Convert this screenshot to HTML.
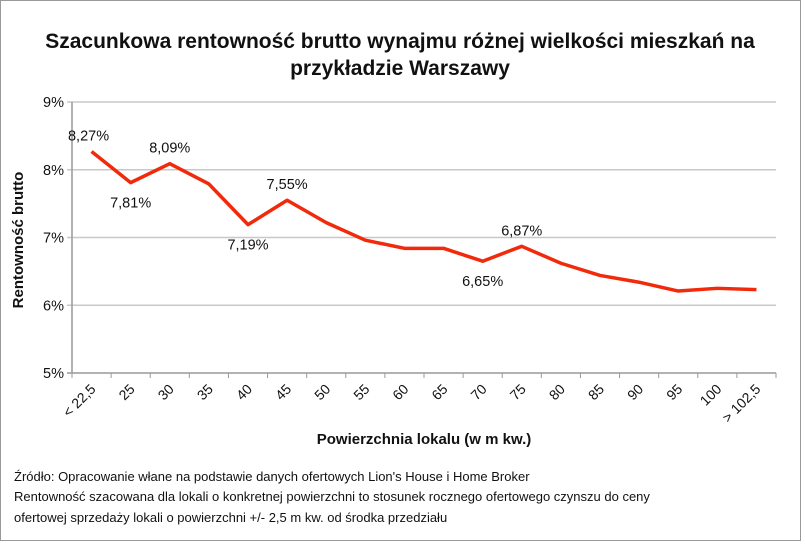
<!DOCTYPE html>
<html><head><meta charset="utf-8"><style>
body{margin:0;background:#fff;font-family:"Liberation Sans",sans-serif}
#wrap{position:relative;width:805px;height:544px;overflow:hidden}
</style></head><body>
<div id="wrap">
<svg id="chart" width="805" height="544">
<rect x="0.5" y="0.5" width="800" height="540" fill="#fff" stroke="#999"/>
<text x="400" y="48" text-anchor="middle" font-size="21" font-weight="bold" fill="#111">Szacunkowa rentowność brutto wynajmu różnej wielkości mieszkań na</text>
<text x="400" y="75" text-anchor="middle" font-size="21" font-weight="bold" fill="#111">przykładzie Warszawy</text>
<g id="grid"></g><g id="axes"></g><g id="series"></g>
<text transform="translate(23,240) rotate(-90)" text-anchor="middle" font-size="15" font-weight="bold" fill="#111">Rentowność brutto</text>
<text x="424" y="444" text-anchor="middle" font-size="15" font-weight="bold" fill="#111">Powierzchnia lokalu (w m kw.)</text>
<text x="14" y="481" font-size="13" fill="#111">Źródło: Opracowanie włane na podstawie  danych ofertowych Lion's House i Home Broker</text>
<text x="14" y="501" font-size="13" fill="#111">Rentowność szacowana dla lokali o konkretnej powierzchni to stosunek rocznego ofertowego czynszu do ceny</text>
<text x="14" y="522" font-size="13" fill="#111">ofertowej sprzedaży lokali o powierzchni +/- 2,5 m kw. od środka przedziału</text>
</svg>
</div>
<script>
const categories=["< 22,5","25","30","35","40","45","50","55","60","65","70","75","80","85","90","95","100","> 102,5"];
const values=[8.27,7.81,8.09,7.79,7.19,7.55,7.22,6.96,6.84,6.84,6.65,6.87,6.62,6.44,6.34,6.21,6.25,6.23];
const labeled=[0,1,2,4,5,10,11];
const labelBelow=[1,4,10];
const yTicks=[5,6,7,8,9];
const NS="http://www.w3.org/2000/svg";
const X0=72,X1=776,Y5=373,Y9=102;
const bw=(X1-X0)/categories.length;
const xs=i=>X0+bw*(i+0.5);
const ys=v=>Y5-(v-5)/(9-5)*(Y5-Y9);
function mk(t,a,p){const e=document.createElementNS(NS,t);for(const k in a)e.setAttribute(k,a[k]);p.appendChild(e);return e;}
const grid=document.getElementById('grid'),axes=document.getElementById('axes'),ser=document.getElementById('series');
yTicks.forEach(v=>{
 const y=ys(v);
 const l=mk('line',{x1:X0-5,x2:X1,y1:y,y2:y,stroke:v===5?'#999':'#c8c8c8','stroke-width':1.5},grid);
 
 
 const t=mk('text',{x:X0-8,y:y+5,'text-anchor':'end','font-size':14.5,fill:'#111'},axes);
 t.textContent=v+'%';
 
 
});
const ya=mk('line',{x1:X0,x2:X0,y1:Y9,y2:Y5,stroke:'#999','stroke-width':1.5},axes);


for(let i=0;i<=categories.length;i++){
 const x=X0+bw*i;
 const tk=mk('line',{x1:x,x2:x,y1:Y5,y2:Y5+5,stroke:'#999'},axes);
 
 
}
categories.forEach((c,i)=>{
 const x=xs(i)+5,y=Y5+17;
 const t=mk('text',{x:x,y:y,'text-anchor':'end','font-size':14,fill:'#111',transform:`rotate(-45 ${x} ${y})`},axes);
 t.textContent=c;
 
 
});
const pl=mk('polyline',{points:values.map((v,i)=>xs(i)+','+ys(v)).join(' '),fill:'none',stroke:'#f22a0c','stroke-width':3.5,'stroke-linejoin':'round'},ser);


labeled.forEach(i=>{
 const below=labelBelow.includes(i);
 const t=mk('text',{x:xs(i)+(i===0?-3:0),y:ys(values[i])+(below?25:-11),'text-anchor':'middle','font-size':14.5,fill:'#111'},ser);
 t.textContent=values[i].toFixed(2).replace('.',',')+'%';
 
 
});
</script>
</body></html>
